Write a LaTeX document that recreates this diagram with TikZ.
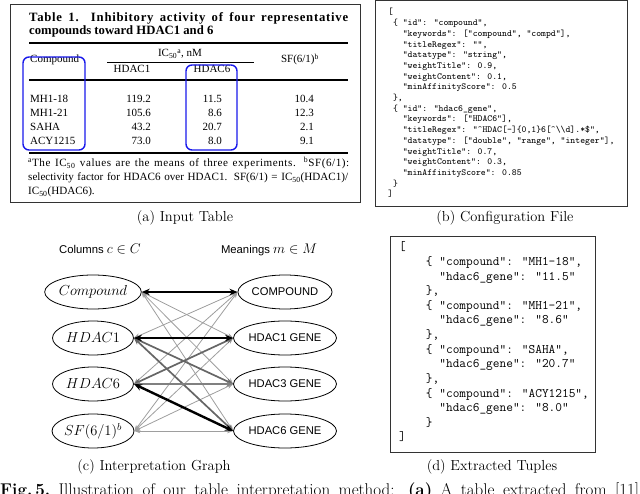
\RequirePackage{fix-cm}
\documentclass[tikz,border=0pt]{standalone}
\usepackage{fontspec}
\newfontfamily\timesf{Liberation Serif}
\newfontfamily\helvf{Liberation Sans}
\usetikzlibrary{arrows.meta,shapes.geometric}
\definecolor{tblue}{RGB}{25,25,235}
\newcommand\fs[2]{\fontsize{#1}{#2}\selectfont}
\begin{document}
\begin{tikzpicture}[x=1pt,y=-1pt,
  tbl/.style={font=\timesf\fs{11}{13}, inner sep=0pt},
  tbl1/.style={tbl, anchor=base west},
  tblr/.style={tbl, anchor=base east},
  tblc/.style={tbl, anchor=base},
  foot/.style={font=\timesf\fs{11.1}{12}, inner sep=0pt, anchor=base west},
  cfg/.style={font=\ttfamily\fs{9.3}{10}, inner sep=0pt, anchor=base west},
  tup/.style={font=\ttfamily\fs{13}{15}, inner sep=0pt, anchor=base west},
  subcap/.style={font=\fs{14.5}{16}, inner sep=0pt, anchor=base},
  frame/.style={draw=black!80, line width=1pt},
  bluebox/.style={draw=tblue, line width=1.4pt, rounded corners=6pt},
  colell/.style={ellipse, draw, line width=0.8pt, minimum width=81pt, minimum height=34pt, inner sep=0pt, font=\fs{14.5}{16}},
  meanell/.style={ellipse, draw, line width=0.8pt, minimum width=90pt, minimum height=34pt, inner sep=0pt, font=\helvf\fs{11.2}{13}},
  hdr/.style={font=\helvf\fs{11.3}{13}, inner sep=0pt, anchor=base},
  weak/.style={draw=black!38, line width=0.8pt, {Stealth[length=6pt,width=4.5pt]}-{Stealth[length=6pt,width=4.5pt]}},
  mid/.style={draw=black!60, line width=1.7pt, {Stealth[length=7pt,width=5.5pt]}-{Stealth[length=7pt,width=5.5pt]}},
  strong/.style={draw=black, line width=2.4pt, {Stealth[length=8pt,width=6.5pt]}-{Stealth[length=8pt,width=6.5pt]}}
]
\useasboundingbox (0,0) rectangle (640,494);

% ---------------- (a) Input table ----------------
\draw[frame] (10,5) rectangle (360,203);
\node[tbl1, font=\timesf\bfseries\fs{12.7}{14}] (t1) at (29,22) {\makebox[319pt][s]{\addfontfeature{LetterSpace=6}Table 1. Inhibitory activity of four representative}};
\node[tbl1, font=\timesf\bfseries\fs{12.7}{14}] (t2) at (29,35) {compounds toward HDAC1 and 6};
\draw[line width=1.1pt] (29,43) -- (348,43);
\node[tblc] (ic) at (180,57) {IC\textsubscript{50}\textsuperscript{a}, nM};
\draw[line width=0.9pt] (107,62) -- (254,62);
\node[tbl1] (hc) at (30,63) {Compound};
\node[tblc] (h1) at (132,73) {HDAC1};
\node[tblc] (h6) at (212,73) {HDAC6};
\node[tblc] (hs) at (300,63) {SF(6/1)\textsuperscript{b}};
\draw[line width=1.1pt] (29,80) -- (348,80);
\node[tbl1] (r1a) at (30,103) {MH1-18};
\node[tblr] (r1b) at (151,103) {119.2};
\node[tblr] (r1c) at (222,103) {11.5};
\node[tblr] (r1d) at (314,103) {10.4};
\node[tbl1] (r2a) at (30,117) {MH1-21};
\node[tblr] (r2b) at (151,117) {105.6};
\node[tblr] (r2c) at (222,117) {8.6};
\node[tblr] (r2d) at (314,117) {12.3};
\node[tbl1] (r3a) at (30,131) {SAHA};
\node[tblr] (r3b) at (151,131) {43.2};
\node[tblr] (r3c) at (222,131) {20.7};
\node[tblr] (r3d) at (314,131) {2.1};
\node[tbl1] (r4a) at (30,145) {ACY1215};
\node[tblr] (r4b) at (151,145) {73.0};
\node[tblr] (r4c) at (222,145) {8.0};
\node[tblr] (r4d) at (314,145) {9.1};
\draw[line width=1.1pt] (29,153) -- (348,153);
\node[foot] (f1) at (28,167) {\makebox[321pt][s]{\addfontfeature{LetterSpace=5}\textsuperscript{a}The IC\textsubscript{50} values are the means of three experiments. \textsuperscript{b}SF(6/1):}};
\node[foot] (f2) at (28,181) {\makebox[320pt][s]{selectivity factor for HDAC6 over HDAC1. SF(6/1) = IC\textsubscript{50}(HDAC1)/}};
\node[foot] (f3) at (28,195) {IC\textsubscript{50}(HDAC6).};
\draw[bluebox] (23,57) rectangle (85,150);
\draw[bluebox] (186,65) rectangle (237,150);
\node[subcap] (capa) at (185,222) {(a) Input Table};

% ---------------- (b) Configuration file ----------------
\draw[frame] (375,1) rectangle (627,207);
\node[cfg] (c0) at (388,15) {[};
\node[cfg] (c1) at (388,25.7) {~\{ "id": "compound",};
\node[cfg] (c2) at (388,36.4) {~~~"keywords": ["compound", "compd"],};
\node[cfg] (c3) at (388,47.1) {~~~"titleRegex": "",};
\node[cfg] (c4) at (388,57.8) {~~~"datatype": "string",};
\node[cfg] (c5) at (388,68.5) {~~~"weightTitle": 0.9,};
\node[cfg] (c6) at (388,79.2) {~~~"weightContent": 0.1,};
\node[cfg] (c7) at (388,89.9) {~~~"minAffinityScore": 0.5};
\node[cfg] (c8) at (388,100.6) {~\},};
\node[cfg] (c9) at (388,111.3) {~\{ "id": "hdac6\_gene",};
\node[cfg] (c10) at (388,122) {~~~"keywords": ["HDAC6"],};
\node[cfg] (c11) at (388,132.7) {~~~"titleRegex": "\textasciicircum HDAC[-]\{0,1\}6[\textasciicircum\textbackslash\textbackslash d].*\$",};
\node[cfg] (c12) at (388,143.4) {~~~"datatype": ["double", "range", "integer"],};
\node[cfg] (c13) at (388,154.1) {~~~"weightTitle": 0.7,};
\node[cfg] (c14) at (388,164.8) {~~~"weightContent": 0.3,};
\node[cfg] (c15) at (388,175.5) {~~~"minAffinityScore": 0.85};
\node[cfg] (c16) at (388,186.2) {~\}};
\node[cfg] (c17) at (388,196.9) {]};
\node[subcap] (capb) at (505,222) {(b) Configuration File};

% ---------------- (c) Interpretation graph ----------------
\node[hdr] (hl) at (100,254) {Columns {\fs{14}{16}$c\in C$}};
\node[hdr] (hr) at (269,254) {Meanings {\fs{14}{16}$m\in M$}};
\node[colell] (cp) at (93,292) {$Compound$};
\node[colell] (ch1) at (93,338) {$HDAC1$};
\node[colell] (ch6) at (93,384) {$HDAC6$};
\node[colell] (csf) at (93,431) {$SF(6/1)^b$};
\node[meanell] (gc) at (285,292) {COMPOUND};
\node[meanell] (g1) at (285,338) {HDAC1 GENE};
\node[meanell] (g3) at (285,384) {HDAC3 GENE};
\node[meanell] (g6) at (285,431) {HDAC6 GENE};
\draw[weak] (cp.east) -- (g1.west);
\draw[weak] (cp.east) -- (g3.west);
\draw[weak] (cp.east) -- (g6.west);
\draw[weak] (ch1.east) -- (gc.west);
\draw[weak] (ch6.east) -- (gc.west);
\draw[weak] (csf.east) -- (gc.west);
\draw[weak] (csf.east) -- (g1.west);
\draw[weak] (csf.east) -- (g3.west);
\draw[weak] (csf.east) -- (g6.west);
\draw[mid] (ch1.east) -- (g3.west);
\draw[mid] (ch1.east) -- (g6.west);
\draw[mid] (ch6.east) -- (g1.west);
\draw[mid, draw=black!50] (ch6.east) -- (g3.west);
\draw[strong] (cp.east) -- (gc.west);
\draw[strong] (ch1.east) -- (g1.west);
\draw[strong] (ch6.east) -- (g6.west);
\node[subcap] (capc) at (154,470) {(c) Interpretation Graph};

% ---------------- (d) Extracted tuples ----------------
\draw[frame] (390,237) rectangle (595,452);
\node[tup] (u0) at (399,251) {[};
\node[tup] (u1) at (399,265.6) {~~~~\{ "compound": "MH1-18",};
\node[tup] (u2) at (399,280.2) {~~~~~~"hdac6\_gene": "11.5"};
\node[tup] (u3) at (399,294.8) {~~~~\},};
\node[tup] (u4) at (399,309.4) {~~~~\{ "compound": "MH1-21",};
\node[tup] (u5) at (399,324) {~~~~~~"hdac6\_gene": "8.6"};
\node[tup] (u6) at (399,338.6) {~~~~\},};
\node[tup] (u7) at (399,353.2) {~~~~\{ "compound": "SAHA",};
\node[tup] (u8) at (399,367.8) {~~~~~~"hdac6\_gene": "20.7"};
\node[tup] (u9) at (399,382.4) {~~~~\},};
\node[tup] (u10) at (399,397) {~~~~\{ "compound": "ACY1215",};
\node[tup] (u11) at (399,411.6) {~~~~~~"hdac6\_gene": "8.0"};
\node[tup] (u12) at (399,426.2) {~~~~\}};
\node[tup] (u13) at (399,440.8) {]};
\node[subcap] (capd) at (492,470) {(d) Extracted Tuples};

% ---------------- figure caption (cut off at the bottom edge) ----------------
\node[anchor=base west, inner sep=0pt, font=\fs{17}{19}] (figcap) at (0,495) {\makebox[639pt][s]{\textbf{Fig.\,5.}\ Illustration of our table interpretation method: \textbf{(a)} A table extracted from [11]}};
\end{tikzpicture}
\end{document}
